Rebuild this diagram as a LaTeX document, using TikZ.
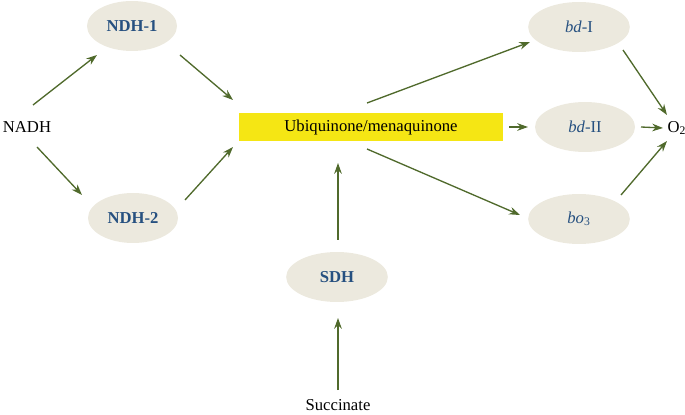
\documentclass[tikz,border=0pt]{standalone}
\usepackage{fontspec}
\setmainfont{Liberation Serif}
\usepackage{tikz}
\usetikzlibrary{arrows.meta,shapes.geometric}

\definecolor{enzfill}{RGB}{236,233,222}
\definecolor{enztext}{RGB}{38,80,128}
\definecolor{flowcol}{RGB}{80,106,44}
\definecolor{quinone}{RGB}{245,230,20}

\begin{document}
\begin{tikzpicture}[x=0.6pt, y=-0.6pt, font=\fontsize{10}{12}\selectfont,
  enz/.style={ellipse, fill=enzfill, text=enztext, minimum width=54pt, minimum height=30pt, inner sep=0pt},
  flow/.style={draw=flowcol, line width=0.8pt, -{Stealth[length=6.5pt,width=4.6pt]}}]
  \useasboundingbox (0,0) rectangle (685,415);
  \node (nadh) at (27,127) {NADH};
  \node[enz] (ndhA) at (132,26) {\textbf{NDH-1}};
  \node[enz] (ndhB) at (133,218) {\textbf{NDH-2}};
  \node[fill=quinone, minimum width=158pt, minimum height=17pt] (box) at (371,127) {Ubiquinone/menaquinone};
  \node[enz, minimum width=61pt] (sdh) at (337,277) {\textbf{SDH}};
  \node (succ) at (338,405) {Succinate};
  \node[enz, minimum width=61pt] (bdA) at (579,27) {\textit{bd}-I};
  \node[enz, minimum width=60pt] (bdB) at (585,127) {\textit{bd}-II};
  \node[enz, minimum width=61pt] (bo) at (579,219) {\textit{bo}\textsubscript{3}};
  \node (o2) at (677,128) {O\textsubscript{2}};
  % NADH side
  \draw[flow] ([shift={(6,-22)}]nadh.center) -- ([shift={(-35,29)}]ndhA.center);
  \draw[flow] ([shift={(10,20)}]nadh.center) -- ([shift={(-51,-23)}]ndhB.center);
  \draw[flow] ([shift={(48,29)}]ndhA.center) -- ([shift={(-138,-27)}]box.center);
  \draw[flow] ([shift={(52,-18)}]ndhB.center) -- ([shift={(-138,20)}]box.center);
  % succinate
  \draw[flow] ([shift={(0,-15)}]succ.center) -- ([shift={(1,41)}]sdh.center);
  \draw[flow] ([shift={(1,-37)}]sdh.center) -- ([shift={(-33,36)}]box.center);
  % oxidases
  \draw[flow] ([shift={(-4,-24)}]box.center) -- ([shift={(-49,15)}]bdA.center);
  \draw[flow] ([shift={(138,0)}]box.center) -- ([shift={(-57,0)}]bdB.center);
  \draw[flow] ([shift={(-4,22)}]box.center) -- ([shift={(-59,-4)}]bo.center);
  \draw[flow] ([shift={(44,23)}]bdA.center) -- ([shift={(-10,-13)}]o2.center);
  \draw[flow] ([shift={(56,0)}]bdB.center) -- ([shift={(-14,0)}]o2.center);
  \draw[flow] ([shift={(42,-24)}]bo.center) -- ([shift={(-10,13)}]o2.center);
\end{tikzpicture}
\end{document}
